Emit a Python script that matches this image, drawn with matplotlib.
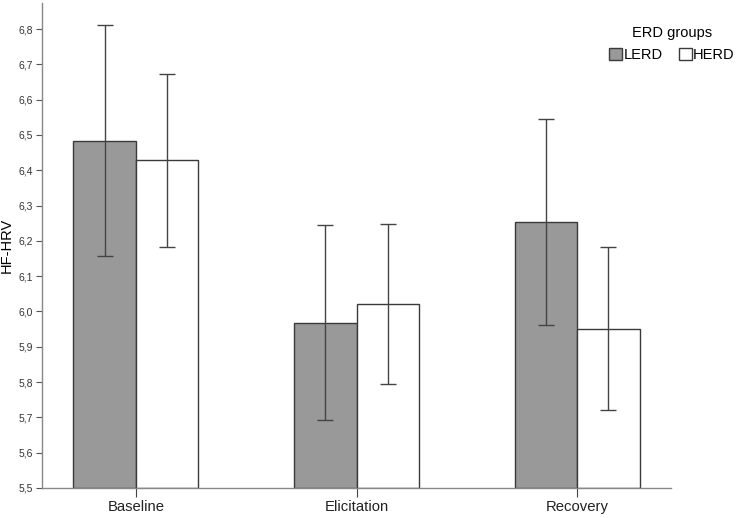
import matplotlib
matplotlib.use("Agg")
import matplotlib.pyplot as plt
import numpy as np

plt.rcParams["font.family"] = ["Liberation Sans", "DejaVu Sans"]

# data (means and 95% CI bounds)
phases = ["Baseline", "Elicitation", "Recovery"]
groups = ["LERD", "HERD"]
lerd_mean = [6.484, 5.967, 6.254]
lerd_low = [6.158, 5.693, 5.963]
lerd_high = [6.811, 6.244, 6.544]
herd_mean = [6.430, 6.021, 5.950]
herd_low = [6.184, 5.796, 5.720]
herd_high = [6.673, 6.247, 6.183]
y_ticks = [5.5, 5.6, 5.7, 5.8, 5.9, 6.0, 6.1, 6.2, 6.3, 6.4, 6.5, 6.6, 6.7, 6.8]

fig = plt.figure(figsize=(7.41, 5.18), dpi=100)
ax = fig.add_axes([42 / 741, 30 / 518, 629 / 741, 485 / 518])

x = np.arange(len(phases))
width = 0.283
edge = "#3a3a3a"
series = [
    (lerd_mean, lerd_low, lerd_high, "#999999", -width / 2),
    (herd_mean, herd_low, herd_high, "white", width / 2),
]
for (mean, low, high, color, off), label in zip(series, groups):
    mean = np.array(mean)
    err = [mean - np.array(low), np.array(high) - mean]
    ax.bar(x + off, mean - 5.5, width, bottom=5.5, color=color,
           edgecolor=edge, linewidth=1.0, label=label, zorder=2)
    ax.errorbar(x + off, mean, yerr=err, fmt="none", ecolor="#444444",
                elinewidth=1.0, capsize=5.8, capthick=1.0, zorder=3)

ax.set_xlim(-0.425, 2.425)
ax.set_ylim(5.5, 5.5 + 485 / 353)
ax.set_yticks(y_ticks)
ax.set_yticklabels([f"{v:.1f}".replace(".", ",") for v in y_ticks])
ax.set_xticks(x)
ax.set_xticklabels(phases)
ax.set_ylabel("HF-HRV", fontsize=10.5)
ax.yaxis.set_label_coords(-28 / 629, 0.5)

for side in ["top", "right"]:
    ax.spines[side].set_visible(False)
for side in ["left", "bottom"]:
    ax.spines[side].set_color("#888888")
    ax.spines[side].set_linewidth(1.0)
ax.tick_params(axis="y", labelsize=7.5, length=4.3, color="#555555",
               labelcolor="#333333", pad=2)
ax.tick_params(axis="x", labelsize=10.7, length=6.5, color="#444444",
               labelcolor="#222222", pad=2)

leg = fig.legend(loc="upper right", bbox_to_anchor=(742 / 741, 1 - 19 / 518),
                 ncol=2, frameon=False, title="ERD groups",
                 fontsize=10.5, title_fontsize=10.5, handlelength=0.9,
                 handleheight=0.9, handletextpad=0.1, columnspacing=1.1,
                 borderpad=0.0)

fig.savefig("out.png", dpi=100)
